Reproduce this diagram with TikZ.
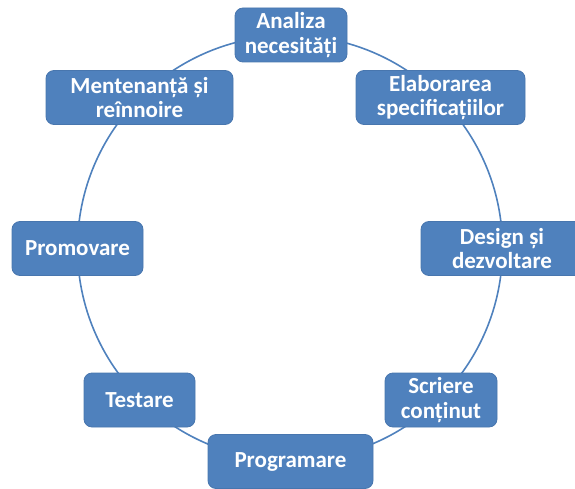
\documentclass[tikz,border=0pt]{standalone}
\usepackage{fontspec}
\setmainfont{Carlito}
\definecolor{stepblue}{RGB}{79,129,189}
\definecolor{stepedge}{RGB}{72,118,174}
\tikzset{
  phase/.style={draw=stepedge, line width=0.8pt, fill=stepblue, rounded corners=8pt,
    text=white, font=\fontsize{23}{24.5}\selectfont\bfseries, align=center,
    minimum height=54pt, inner sep=0pt},
  cycleline/.style={draw=stepblue, line width=1.6pt}
}
\begin{document}
\begin{tikzpicture}[x=1pt,y=-1pt]
 \useasboundingbox (0,0) rectangle (575,489);
 \coordinate (c) at (290,248);
 \draw[cycleline] (c) circle[radius=212.5pt];
 \node[phase, minimum width=112pt] (analiza) at (291,35) {Analiza\\necesități};
 \node[phase, minimum width=169pt] (elaborare) at (440.5,97.5) {Elaborarea\\specificațiilor};
 \node[phase, minimum width=162pt] (design) at (502,248.5) {Design și\\dezvoltare};
 \node[phase, minimum width=112pt] (scriere) at (441,400) {Scriere\\conținut};
 \node[phase, minimum width=165pt] (programare) at (290.5,461.5) {Programare};
 \node[phase, minimum width=111pt] (testare) at (139.5,400) {Testare};
 \node[phase, minimum width=131pt] (promovare) at (77.5,248.5) {Promovare};
 \node[phase, minimum width=187pt] (mentenanta) at (139.5,97.5) {Mentenanță și\\reînnoire};
\end{tikzpicture}
\end{document}
